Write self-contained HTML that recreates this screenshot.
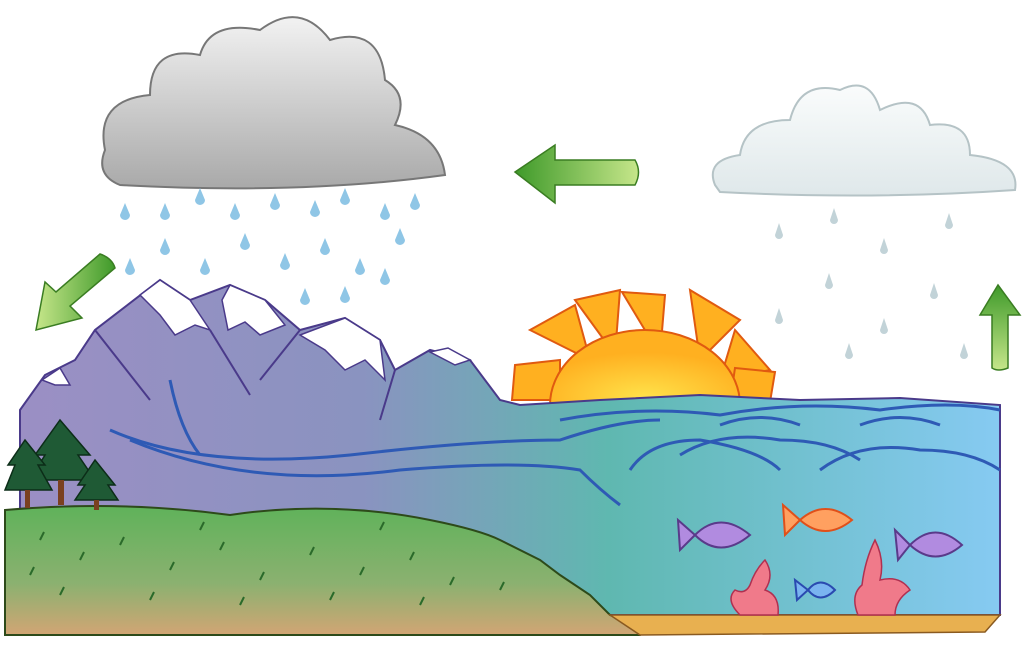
<!DOCTYPE html>
<html><head><meta charset="utf-8"><style>html,body{margin:0;padding:0;background:#fff}svg{display:block}</style></head>
<body>
<svg width="1024" height="647" viewBox="0 0 1024 647" xmlns="http://www.w3.org/2000/svg">
<defs>
<linearGradient id="land" x1="0" x2="1" y1="0" y2="0">
<stop offset="0" stop-color="#9b8fc4"/><stop offset="0.35" stop-color="#8a93c0"/><stop offset="0.6" stop-color="#5fb8b0"/><stop offset="1" stop-color="#86caf2"/></linearGradient>
<linearGradient id="grass" x1="0" x2="0" y1="0" y2="1">
<stop offset="0" stop-color="#5fb25a"/><stop offset="0.6" stop-color="#8bb170"/><stop offset="1" stop-color="#d2a574"/></linearGradient>
<linearGradient id="gcloud" x1="0" x2="0" y1="0" y2="1"><stop offset="0" stop-color="#f2f2f2"/><stop offset="1" stop-color="#a9a9a9"/></linearGradient>
<linearGradient id="lcloud" x1="0" x2="0" y1="0" y2="1"><stop offset="0" stop-color="#fafcfc"/><stop offset="1" stop-color="#dfe8ea"/></linearGradient>
<linearGradient id="arr" x1="0" x2="1"><stop offset="0" stop-color="#3f9a2a"/><stop offset="1" stop-color="#c6e68a"/></linearGradient>
<linearGradient id="arrR" x1="1" x2="0"><stop offset="0" stop-color="#3f9a2a"/><stop offset="1" stop-color="#c6e68a"/></linearGradient>
<linearGradient id="arrU" x1="0" x2="0" y1="0" y2="1"><stop offset="0" stop-color="#3f9a2a"/><stop offset="1" stop-color="#c6e68a"/></linearGradient>
<radialGradient id="sun" cx="0.5" cy="0.9" r="0.6"><stop offset="0" stop-color="#ffe24a"/><stop offset="1" stop-color="#ffb020"/></radialGradient>
</defs>
<!-- gray cloud -->
<path d="M105 150 Q95 100 150 95 Q150 45 200 55 Q210 20 260 30 Q300 0 330 40 Q380 25 385 80 Q410 95 395 125 Q440 135 445 175 Q300 195 120 185 Q95 175 105 150Z" fill="url(#gcloud)" stroke="#777" stroke-width="2"/>
<!-- light cloud -->
<path d="M715 185 Q705 160 740 155 Q745 120 790 120 Q800 80 840 90 Q870 75 880 110 Q920 90 930 125 Q970 120 970 155 Q1020 160 1015 190 Q870 200 720 192Z" fill="url(#lcloud)" stroke="#b5c3c6" stroke-width="2"/>
<!-- rain drops left -->
<g fill="#8fc6e6">
<path d="M120 215 l5 -12 l5 12 a5 5 0 0 1 -10 0Z"/><path d="M160 215 l5 -12 l5 12 a5 5 0 0 1 -10 0Z"/><path d="M195 200 l5 -12 l5 12 a5 5 0 0 1 -10 0Z"/><path d="M230 215 l5 -12 l5 12 a5 5 0 0 1 -10 0Z"/><path d="M270 205 l5 -12 l5 12 a5 5 0 0 1 -10 0Z"/><path d="M310 212 l5 -12 l5 12 a5 5 0 0 1 -10 0Z"/><path d="M340 200 l5 -12 l5 12 a5 5 0 0 1 -10 0Z"/><path d="M380 215 l5 -12 l5 12 a5 5 0 0 1 -10 0Z"/><path d="M410 205 l5 -12 l5 12 a5 5 0 0 1 -10 0Z"/>
<path d="M125 270 l5 -12 l5 12 a5 5 0 0 1 -10 0Z"/><path d="M160 250 l5 -12 l5 12 a5 5 0 0 1 -10 0Z"/><path d="M200 270 l5 -12 l5 12 a5 5 0 0 1 -10 0Z"/><path d="M240 245 l5 -12 l5 12 a5 5 0 0 1 -10 0Z"/><path d="M280 265 l5 -12 l5 12 a5 5 0 0 1 -10 0Z"/><path d="M320 250 l5 -12 l5 12 a5 5 0 0 1 -10 0Z"/><path d="M355 270 l5 -12 l5 12 a5 5 0 0 1 -10 0Z"/><path d="M395 240 l5 -12 l5 12 a5 5 0 0 1 -10 0Z"/><path d="M380 280 l5 -12 l5 12 a5 5 0 0 1 -10 0Z"/><path d="M300 300 l5 -12 l5 12 a5 5 0 0 1 -10 0Z"/><path d="M340 298 l5 -12 l5 12 a5 5 0 0 1 -10 0Z"/>
</g>
<!-- rain right -->
<g fill="#c2d3d8">
<path d="M775 235 l4 -12 l4 12 a4 4 0 0 1 -8 0Z"/><path d="M830 220 l4 -12 l4 12 a4 4 0 0 1 -8 0Z"/><path d="M880 250 l4 -12 l4 12 a4 4 0 0 1 -8 0Z"/><path d="M945 225 l4 -12 l4 12 a4 4 0 0 1 -8 0Z"/><path d="M825 285 l4 -12 l4 12 a4 4 0 0 1 -8 0Z"/><path d="M930 295 l4 -12 l4 12 a4 4 0 0 1 -8 0Z"/><path d="M775 320 l4 -12 l4 12 a4 4 0 0 1 -8 0Z"/><path d="M845 355 l4 -12 l4 12 a4 4 0 0 1 -8 0Z"/><path d="M960 355 l4 -12 l4 12 a4 4 0 0 1 -8 0Z"/><path d="M880 330 l4 -12 l4 12 a4 4 0 0 1 -8 0Z"/>
</g>
<!-- arrows -->
<path d="M515 172 L555 145 L555 160 L635 160 Q642 172 635 185 L555 185 L555 203Z" fill="url(#arr)" stroke="#3a7d22" stroke-width="1.5"/>
<path d="M36 330 L45 282 L56 292 L100 254 Q112 258 115 268 L70 306 L82 318Z" fill="url(#arrR)" stroke="#3a7d22" stroke-width="1.5"/>
<path d="M998 285 L1020 315 L1008 315 L1008 368 Q998 372 992 368 L992 315 L980 315Z" fill="url(#arrU)" stroke="#3a7d22" stroke-width="1.5"/>
<path d="M572 522 L548 505 L548 514 L492 514 Q488 522 492 532 L548 532 L548 540Z" fill="url(#arr)" stroke="#3a7d22" stroke-width="1.5"/>
<!-- sun -->
<g stroke="#e05a10" stroke-width="2" fill="#ffb020">
<path d="M530 330 L575 305 L590 360Z"/><path d="M575 300 L620 290 L615 355Z"/><path d="M622 292 L665 295 L660 355Z"/><path d="M690 290 L740 320 L700 360Z"/><path d="M735 330 L770 370 L720 380Z"/><path d="M515 365 L560 360 L560 400 L512 400Z"/><path d="M735 368 L775 372 L770 402 L730 402Z"/>
</g>
<path d="M550 405 A95 75 0 0 1 740 405Z" fill="url(#sun)" stroke="#e05a10" stroke-width="2"/>
<!-- main land/water body -->
<path d="M20 410 L45 375 L75 360 L95 330 L160 280 L190 300 L230 285 L265 300 L300 330 L345 318 L380 340 L395 370 L430 350 L470 360 L500 400 L520 405 L600 400 L700 395 L800 400 L900 398 L1000 405 L1000 615 L20 615Z" fill="url(#land)" stroke="#4a3a8a" stroke-width="2"/>
<!-- mountain snow -->
<g fill="#fff" stroke="#4a3a8a" stroke-width="1.5">
<path d="M140 295 L160 280 L190 300 L210 330 L195 325 L175 335 L160 315Z"/>
<path d="M222 300 L230 285 L265 300 L285 325 L260 335 L245 322 L228 330Z"/>
<path d="M300 335 L345 318 L380 340 L385 380 L365 360 L345 370 L325 350Z"/>
<path d="M430 352 L448 348 L470 360 L455 365Z"/>
<path d="M42 380 L60 368 L70 385 L55 385Z"/>
</g>
<!-- mountain ridges -->
<g stroke="#4a3a8a" stroke-width="2" fill="none">
<path d="M95 330 L150 400"/><path d="M210 330 L250 395"/><path d="M300 330 L260 380"/><path d="M395 370 L380 420"/>
</g>
<!-- river & waves -->
<g stroke="#2e5ab5" stroke-width="3" fill="none">
<path d="M110 430 Q200 470 350 455 Q480 440 560 440 Q620 420 660 420"/>
<path d="M170 380 Q180 430 200 455"/>
<path d="M130 440 Q250 490 400 470 Q520 460 580 470 Q600 490 620 505"/>
<path d="M560 420 Q640 405 720 415 Q800 400 880 410 Q950 400 1000 410"/>
<path d="M630 470 Q650 440 700 440 Q760 450 780 470"/>
<path d="M680 455 Q720 430 780 440 Q830 440 860 460"/>
<path d="M820 470 Q860 440 920 450 Q970 450 1000 470"/>
<path d="M720 425 Q760 410 800 425"/><path d="M860 425 Q900 410 940 425"/>
</g>
<!-- grass land -->
<path d="M5 510 Q120 500 230 515 Q330 500 430 520 Q480 530 500 540 L540 560 L560 575 L590 595 L610 615 L650 628 L640 635 L5 635Z" fill="url(#grass)" stroke="#2d4a1a" stroke-width="2"/>
<g stroke="#2a6a2a" stroke-width="2">
<path d="M40 540 l4 -8 M80 560 l4 -8 M120 545 l4 -8 M170 570 l4 -8 M220 550 l4 -8 M260 580 l4 -8 M310 555 l4 -8 M360 575 l4 -8 M410 560 l4 -8 M450 585 l4 -8 M60 595 l4 -8 M150 600 l4 -8 M240 605 l4 -8 M330 600 l4 -8 M420 605 l4 -8 M500 590 l4 -8 M30 575 l4-8 M200 530 l4 -8 M380 530 l4 -8"/>
</g>
<!-- seabed -->
<path d="M610 615 L1000 615 L985 632 L640 635Z" fill="#e8b050" stroke="#8a5a20" stroke-width="1.5"/>
<!-- trees -->
<g fill="#1f5a35" stroke="#0c2d18" stroke-width="1.5">
<path d="M60 420 L90 455 L78 455 L95 480 L30 480 L45 455 L35 455Z"/>
<path d="M25 440 L45 465 L38 465 L52 490 L5 490 L15 465 L8 465Z"/>
<path d="M95 460 L115 485 L108 485 L118 500 L75 500 L85 485 L78 485Z"/>
</g>
<g fill="#7a4020"><rect x="58" y="480" width="6" height="25"/><rect x="25" y="490" width="5" height="18"/><rect x="94" y="500" width="5" height="10"/></g>
<!-- fish -->
<g stroke="#5a3a8a" stroke-width="2" fill="#b18be0">
<path d="M695 535 Q720 510 750 535 Q720 560 695 535Z"/><path d="M695 535 L678 520 L680 550Z"/>
<path d="M910 545 Q935 520 962 545 Q935 568 910 545Z"/><path d="M910 545 L895 530 L898 560Z"/>
</g>
<g stroke="#e0501a" stroke-width="2" fill="#ffa060">
<path d="M800 520 Q825 498 852 520 Q825 542 800 520Z"/><path d="M800 520 L783 505 L785 535Z"/>
</g>
<g stroke="#2a4ab0" stroke-width="2" fill="#7ab4f0">
<path d="M808 590 Q820 575 835 590 Q820 605 808 590Z"/><path d="M808 590 L795 580 L797 600Z"/>
</g>
<!-- coral -->
<g fill="#f07a8a" stroke="#b03050" stroke-width="1.5">
<path d="M740 615 Q725 600 735 590 Q745 595 750 585 Q755 570 765 560 Q775 575 765 590 Q780 595 778 615Z"/>
<path d="M858 615 Q850 595 862 585 Q865 560 875 540 Q885 560 880 580 Q900 575 910 590 Q895 600 895 615Z"/>
</g>
</svg>
</body></html>
